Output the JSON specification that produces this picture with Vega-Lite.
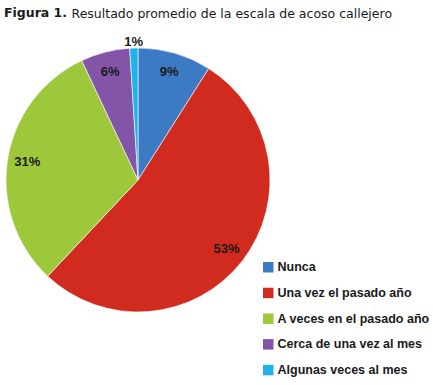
{
  "$schema": "https://vega.github.io/schema/vega-lite/v6.json",
  "autosize": {"type": "none"},
  "width": 276,
  "height": 264,
  "padding": {"left": 0, "top": 48, "right": 157, "bottom": 73},
  "background": "white",
  "title": {
    "text": "Figura 1.",
    "subtitle": "\u200b\u00a0\u00a0\u00a0\u00a0\u00a0\u00a0\u00a0\u00a0\u00a0\u00a0\u00a0\u00a0\u00a0\u00a0\u00a0\u00a0\u00a0Resultado promedio de la escala de acoso callejero",
    "anchor": "start",
    "frame": "bounds",
    "dx": 4,
    "offset": 16,
    "font": "DejaVu Sans",
    "fontSize": 12.5,
    "fontWeight": "bold",
    "color": "#1a1a1a",
    "subtitleFont": "DejaVu Sans",
    "subtitleFontSize": 12.5,
    "subtitleFontWeight": "normal",
    "subtitleColor": "#1a1a1a",
    "subtitlePadding": -11.5
  },
  "data": {
    "values": [
      {"categoria": "Nunca", "pct": 9, "etiqueta": "9%", "orden": 1},
      {"categoria": "Una vez el pasado año", "pct": 53, "etiqueta": "53%", "orden": 2},
      {"categoria": "A veces en el pasado año", "pct": 31, "etiqueta": "31%", "orden": 3},
      {"categoria": "Cerca de una vez al mes", "pct": 6, "etiqueta": "6%", "orden": 4},
      {"categoria": "Algunas veces al mes", "pct": 1, "etiqueta": "1%", "orden": 5}
    ]
  },
  "encoding": {
    "theta": {"field": "pct", "type": "quantitative", "stack": true},
    "order": {"field": "orden", "type": "quantitative"}
  },
  "layer": [
    {
      "mark": {"type": "arc", "outerRadius": 132, "stroke": "white", "strokeWidth": 0.6},
      "encoding": {
        "color": {
          "field": "categoria",
          "type": "nominal",
          "sort": ["Nunca", "Una vez el pasado año", "A veces en el pasado año", "Cerca de una vez al mes", "Algunas veces al mes"],
          "scale": {
            "domain": ["Nunca", "Una vez el pasado año", "A veces en el pasado año", "Cerca de una vez al mes", "Algunas veces al mes"],
            "range": ["#3C7AC4", "#D12A1E", "#9DC83C", "#8355A8", "#1EB4EA"]
          },
          "legend": {
            "orient": "none",
            "legendX": 262,
            "legendY": 213,
            "title": null,
            "symbolType": "square",
            "symbolSize": 110,
            "symbolStrokeWidth": 0,
            "labelFont": "Liberation Sans",
            "labelFontSize": 12.5,
            "labelFontWeight": "bold",
            "labelColor": "#1a1a1a",
            "labelOffset": 3,
            "rowPadding": 12.7,
            "labelLimit": 300
          }
        }
      }
    },
    {
      "mark": {"type": "text", "font": "Liberation Sans", "fontSize": 13, "fontWeight": "bold", "color": "#1a1a1a", "radius": {"expr": "datum.pct < 3 ? 138 : 112"}},
      "encoding": {
        "text": {"field": "etiqueta"}
      }
    }
  ]
}
